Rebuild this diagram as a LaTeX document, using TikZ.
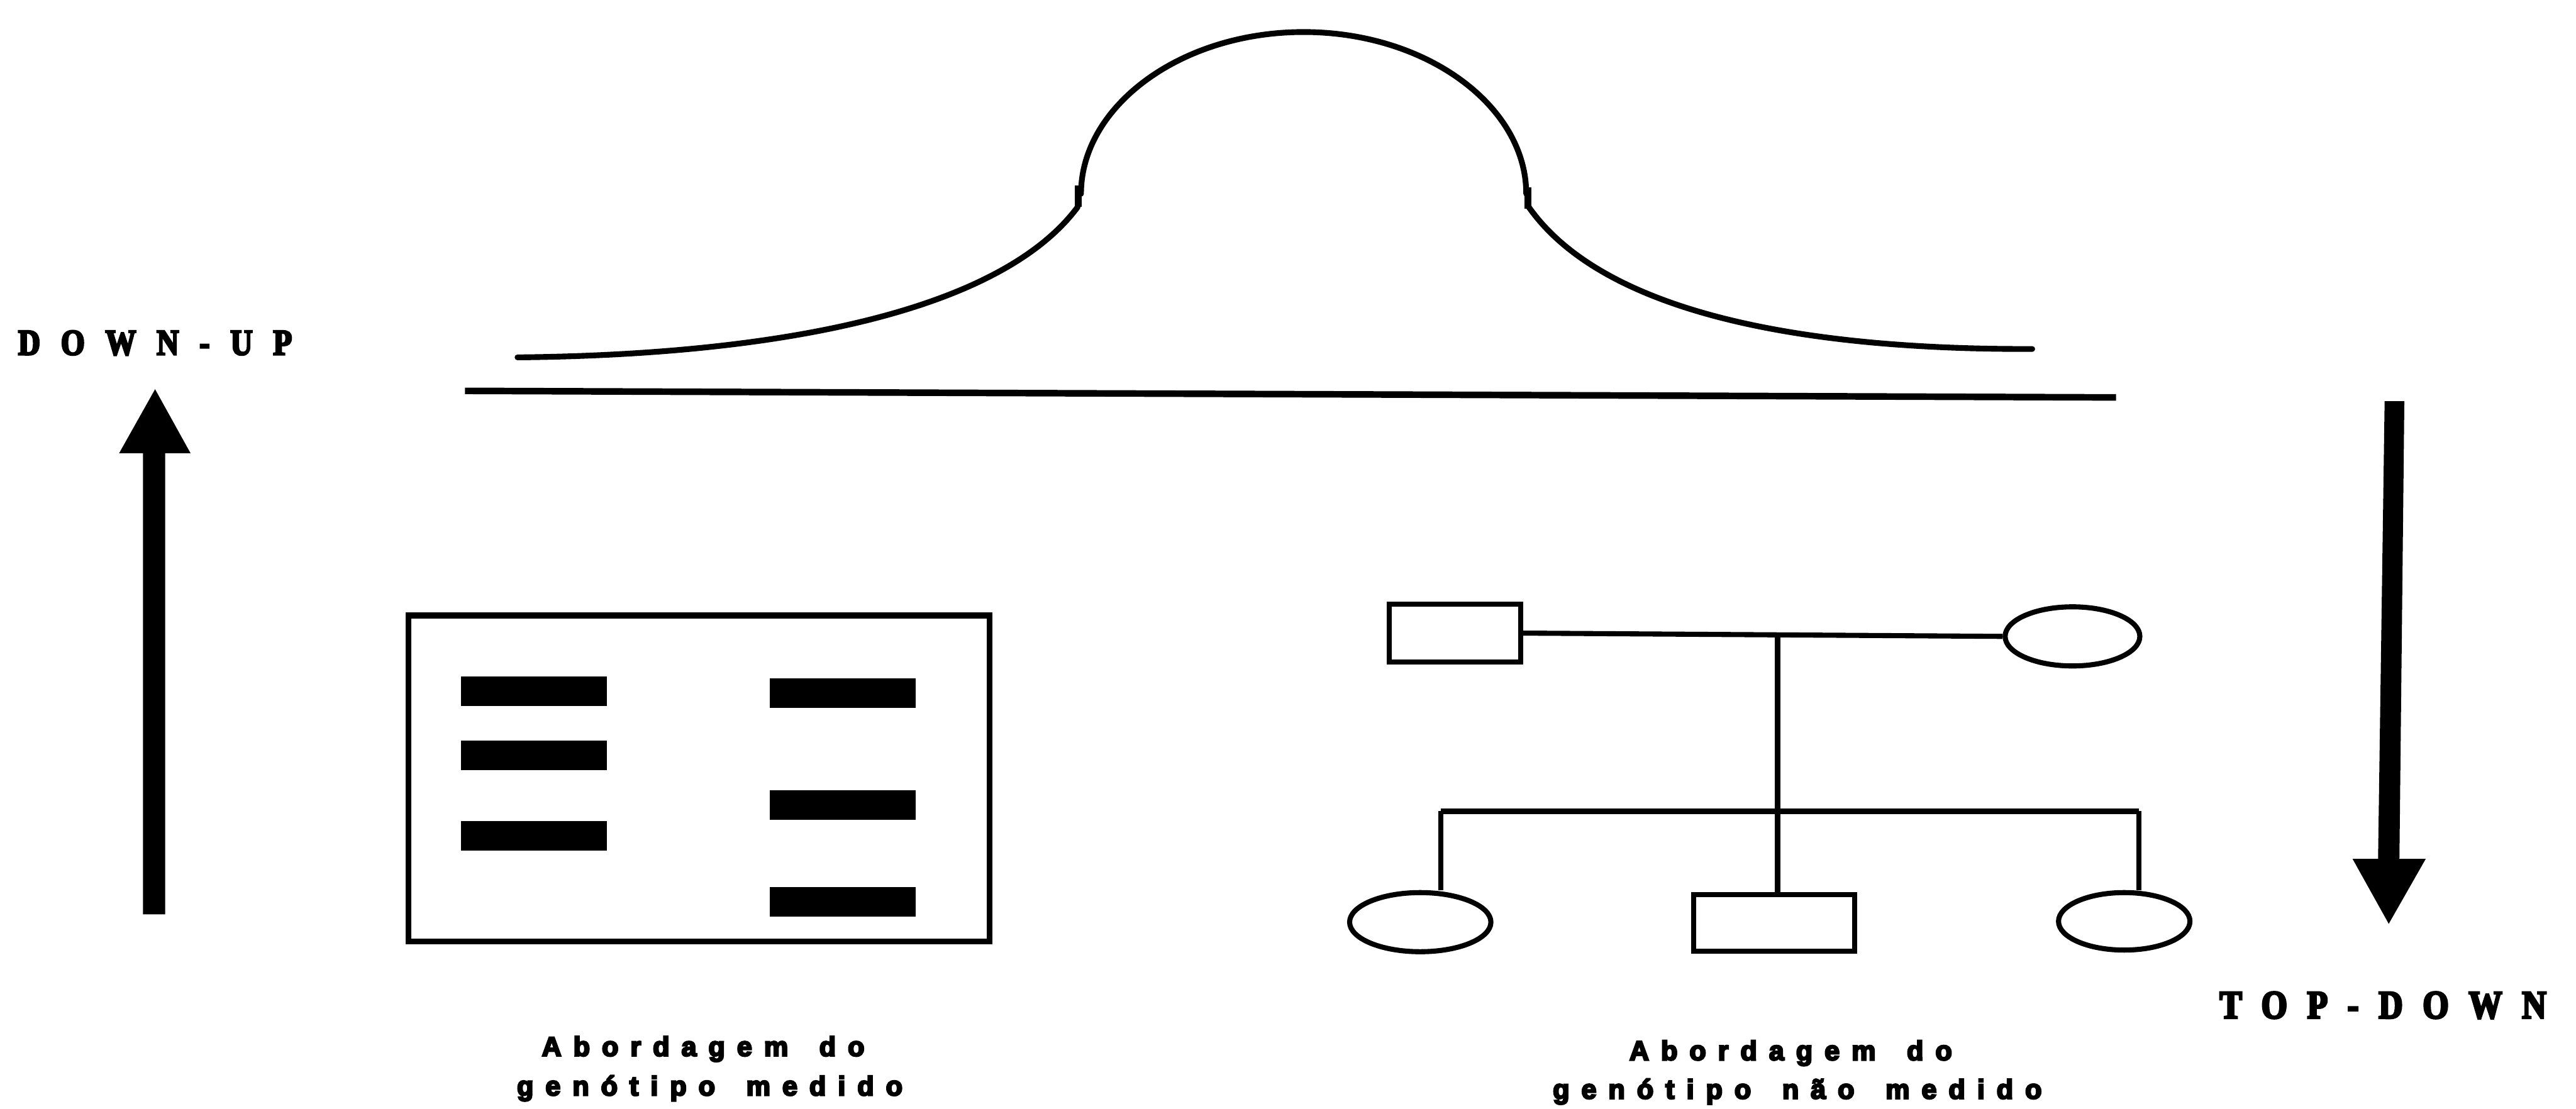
\documentclass[tikz,border=0pt]{standalone}
\usepackage{fontspec}
\usetikzlibrary{shapes.geometric}
\newfontfamily\capfont{Liberation Sans}[FakeStretch=1.0,FakeBold=6,WordSpace=1.6]
\newfontfamily\dirfont{Liberation Serif}[FakeStretch=0.84,FakeBold=5]
\begin{document}
\begin{tikzpicture}[x=1mm,y=-1mm,
  pedline/.style={line width=3.1mm},
  male/.style={draw,line width=3.1mm,rectangle,inner sep=0pt},
  female/.style={draw,line width=3.1mm,ellipse,inner sep=0pt},
  band/.style={fill=black,rectangle,inner sep=0pt,minimum width=89mm,minimum height=18mm},
  bigarrow/.style={fill=black},
  gel/.style={draw,line width=3.5mm,rectangle,inner sep=0pt,minimum width=353.5mm,minimum height=198.5mm},
  curveline/.style={line width=3.5mm,line cap=round},
  dirtext/.style={inner sep=0pt,anchor=base west},
  captext/.style={inner sep=0pt,anchor=base,font=\capfont\bfseries\fontsize{47}{47}\selectfont\addfontfeature{LetterSpace=44}}
]
\fill[white] (0,0) rectangle (1568,675);
\useasboundingbox (0,0) rectangle (1568,675);

% distribution curve
\draw[curveline] (315,217.6) .. controls (480,216) and (610,188) .. (656,126);
\draw[curveline] (658,118) .. controls (658,64.8) and (718.4,19.5) .. (793.5,19.5)
                 .. controls (868.6,19.5) and (929,64.8) .. (929,118);
\draw[curveline] (930.5,126) .. controls (974,188) and (1089,213) .. (1237,212.5);
\draw[line width=4.2mm] (656.5,113) -- (656.5,126);
\draw[line width=4.2mm] (930,114) -- (930,127);
\draw[line width=4mm] (283,238) -- (1288,242);

% arrows
\fill[bigarrow] (87,556.7) -- (87,276) -- (72.5,276) -- (94.4,237) -- (116,276) -- (100.5,276) -- (100.5,556.7) -- cycle;
\fill[bigarrow] (1451.5,244.3) -- (1463.5,244.3) -- (1460.5,523) -- (1476.5,523) -- (1454,562.5) -- (1432,523) -- (1447.5,523) -- cycle;

% direction labels
\node[dirtext,font=\dirfont\bfseries\fontsize{63}{63}\selectfont\addfontfeature{LetterSpace=57}] (downup) at (11,216) {DOWN-UP};
\node[dirtext,font=\dirfont\bfseries\fontsize{69}{69}\selectfont\addfontfeature{LetterSpace=50}] (topdown) at (1351,620) {TOP-DOWN};

% gel
\node[gel] (gelbox) at (425.5,474) {};
\node[band] (l1) at (325,421) {};
\node[band] (l2) at (325,459.8) {};
\node[band] (l3) at (325,509) {};
\node[band] (r1) at (513,422) {};
\node[band] (r2) at (513,490) {};
\node[band] (r3) at (513,549) {};

% pedigree
\node[male,minimum width=80mm,minimum height=35.5mm] (father) at (885.5,385.5) {};
\node[female,minimum width=82mm,minimum height=36mm] (mother) at (1261.5,387.5) {};
\node[female,minimum width=86mm,minimum height=36mm] (childL) at (864.5,561.5) {};
\node[male,minimum width=98mm,minimum height=34.5mm] (childM) at (1080,562) {};
\node[female,minimum width=80mm,minimum height=35mm] (childR) at (1293,561) {};
\coordinate (mate) at (1082,386.5);
\coordinate (sibM) at (1082,494);
\coordinate (sibL) at (877,494);
\coordinate (sibR) at (1302,494);
\draw[pedline] (father.east) -- (mother.west);
\draw[pedline] (mate) -- (sibM);
\draw[pedline] (sibL) -- (sibR);
\draw[pedline] (sibL) -- (sibL |- childL.north);
\draw[pedline] (sibM) -- (sibM |- childM.north);
\draw[pedline] (sibR) -- (sibR |- childR.north);

% captions
\node[captext] (capL1) at (428,643) {Abordagem do};
\node[captext] (capL2) at (432,667) {genótipo medido};
\node[captext] (capR1) at (1090,645.5) {Abordagem do};
\node[captext] (capR2) at (1094,669) {genótipo não medido};
\end{tikzpicture}
\end{document}
